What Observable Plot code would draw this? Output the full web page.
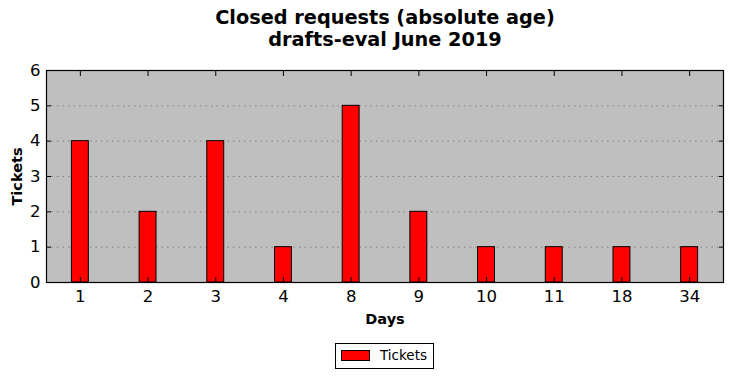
<!DOCTYPE html>
<html>
<head>
<meta charset="utf-8">
<script src="https://cdn.jsdelivr.net/npm/d3@7"></script>
<script src="https://cdn.jsdelivr.net/npm/@observablehq/plot@0.6"></script>
<style>
  body { margin: 0; background: #fff; font-family: "DejaVu Sans", sans-serif; }
  #wrap { position: relative; width: 732px; height: 378px; overflow: hidden; }
  #title { position: absolute; left: 0; top: 7px; width: 770px; text-align: center; font-weight: bold; font-size: 19.3px; line-height: 22px; color: #000; }
  #legend { position: absolute; left: 335px; top: 343px; width: 99px; height: 26px; border: 1px solid #000; background: #fff; box-sizing: border-box; font-size: 13.5px; }
  #legend .sw { position: absolute; left: 5px; top: 6px; width: 29px; height: 11px; background: #ff0000; border: 1px solid #000; box-sizing: border-box; }
  #legend .lb { position: absolute; left: 44px; top: 3px; }
  svg { position: absolute; left: 0; top: 0; }
  g[aria-label="x-axis tick label"], g[aria-label="y-axis tick label"] { font-size: 16.5px; }
</style>
</head>
<body>
<div id="wrap">
  <div id="title">Closed requests (absolute age)<br>drafts-eval June 2019</div>
  <div id="legend"><div class="sw"></div><div class="lb">Tickets</div></div>
</div>
<script>
const days = ["1", "2", "3", "4", "8", "9", "10", "11", "18", "34"];
const tickets = [4, 2, 4, 1, 5, 2, 1, 1, 1, 1];
const yTicks = [0, 1, 2, 3, 4, 5, 6];
const gridTicks = [1, 2, 3, 4, 5];

const data = days.map((d, i) => ({day: d, tickets: tickets[i]}));

const chart = Plot.plot({
  width: 732,
  height: 378,
  marginLeft: 46,
  marginRight: 9,
  marginTop: 70,
  marginBottom: 96,
  style: {fontFamily: "DejaVu Sans, sans-serif", fontSize: "16.5px", background: "transparent", color: "#000"},
  x: {type: "band", domain: days, paddingInner: 0.75, paddingOuter: 0.375, align: 0.5, round: false, axis: null},
  y: {domain: [0, 6], axis: null},
  marks: [
    Plot.frame({fill: "#bfbfbf"}),
    Plot.ruleY(gridTicks, {stroke: "#808080", strokeDasharray: "1.5,4", strokeWidth: 1}),
    Plot.barY(data, {x: "day", y: "tickets", fill: "#ff0000", stroke: "#000", strokeWidth: 1}),
    Plot.axisX({anchor: "bottom", tickSize: -5, tickPadding: 13, fontSize: 16.5, label: null, tickFormat: d => d}),
    Plot.axisX({anchor: "top", tickSize: -5, tickFormat: () => "", label: null}),
    Plot.axisY({anchor: "left", ticks: yTicks, tickSize: -5, tickPadding: 11, fontSize: 16.5, label: null, tickFormat: d3.format("d")}),
    Plot.axisY({anchor: "right", ticks: yTicks, tickSize: -5, tickFormat: () => "", label: null}),
    Plot.frame({stroke: "#000", strokeWidth: 1.2}),
    Plot.text(["Days"], {frameAnchor: "bottom", dy: 41, fontWeight: "bold", fontSize: 14.5}),
    Plot.text(["Tickets"], {frameAnchor: "left", dx: -29, rotate: -90, textAnchor: "middle", fontWeight: "bold", fontSize: 14.5})
  ]
});
document.getElementById("wrap").prepend(chart);
</script>
</body>
</html>
